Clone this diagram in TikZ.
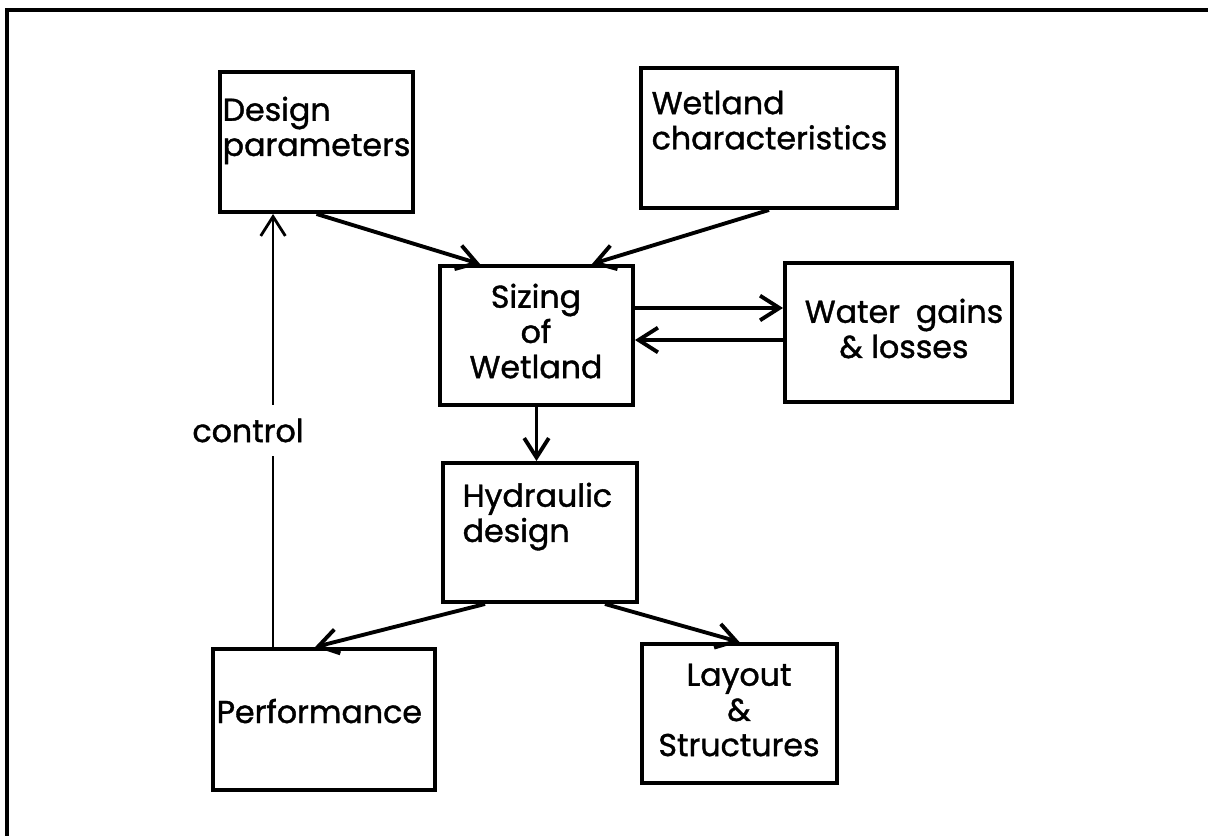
\documentclass[tikz,border=0pt]{standalone}
\usepackage{fontspec}
\setmainfont{Poppins}[FakeBold=1.2]
\usetikzlibrary{arrows.meta}

\tikzset{
  box/.style={rectangle, draw, line width=1.1pt, inner sep=0pt},
  txt/.style={inner sep=0pt, font=\fontsize{9pt}{10pt}\selectfont},
  arr/.style={-{Straight Barb[length=5.5pt,width=7pt]}, line width=1.1pt}
}

\begin{document}
\begin{tikzpicture}[x=0.01cm, y=-0.01cm]
      \useasboundingbox (0,0) rectangle (1208,836);
      % Frame
      \draw [line width=1.2pt] (7,836) -- (7,10) -- (1208,10);

      % Boxes
      \node (design) [box, minimum width=1.93cm, minimum height=1.40cm] at (316.5,142) {};
      \node (wetchar) [box, minimum width=2.56cm, minimum height=1.40cm] at (769,138) {};
      \node (sizing) [box, minimum width=1.93cm, minimum height=1.39cm] at (536.5,335.5) {};
      \node (water) [box, minimum width=2.27cm, minimum height=1.39cm] at (898.5,332.5) {};
      \node (hydraulic) [box, minimum width=1.94cm, minimum height=1.39cm] at (540,532.5) {};
      \node (perf) [box, minimum width=2.22cm, minimum height=1.41cm] at (324,719.5) {};
      \node (layout) [box, minimum width=1.95cm, minimum height=1.39cm] at (739.5,713.5) {};

      % Texts
      \node (designtxt) [txt, anchor=north west, align=left] at (222,96) {Design\\parameters};
      \node (wetchartxt) [txt, anchor=north west, align=left] at (651,90) {Wetland\\characteristics};
      \node (sizingtxt) [txt, anchor=north, align=center] at (536,283) {Sizing\\of\\Wetland};
      \node (watertxt) [txt, anchor=north, align=center] at (904,298) {Water\enspace gains\\\& losses};
      \node (hydraulictxt) [txt, anchor=north west, align=left] at (462,482) {Hydraulic\\design};
      \node (perftxt) [txt, anchor=base west] at (216,723) {Performance};
      \node (layouttxt) [txt, anchor=north, align=center] at (739,663) {Layout\\\&\\Structures};

      % Arrows
      \draw [arr] (design.south) -- ([xshift=0.42cm]sizing.north west);
      \draw [arr] (wetchar.south) -- ([xshift=-0.43cm]sizing.north east);
      \draw [arr] ([yshift=0.275cm]sizing.east) -- ([yshift=0.275cm]sizing.east -| water.west);
      \draw [arr] ([yshift=-0.075cm]water.west) -- ([yshift=-0.075cm]water.west -| sizing.east);
      \draw [arr] (sizing.south) -- (sizing.south |- hydraulic.north);
      \draw [arr] ([xshift=0.44cm]hydraulic.south west) -- ([xshift=1.04cm]perf.north west);
      \draw [arr] ([xshift=-0.34cm]hydraulic.south east) -- (layout.north);
      \draw [-{Straight Barb[length=5.5pt,width=7pt]}, line width=0.8pt] ([xshift=0.62cm]perf.north west) -- node (control) [txt, fill=white, inner ysep=4pt, pos=0.5, xshift=-0.25cm] {control} ([xshift=0.62cm]perf.north west |- design.south);
\end{tikzpicture}
\end{document}
